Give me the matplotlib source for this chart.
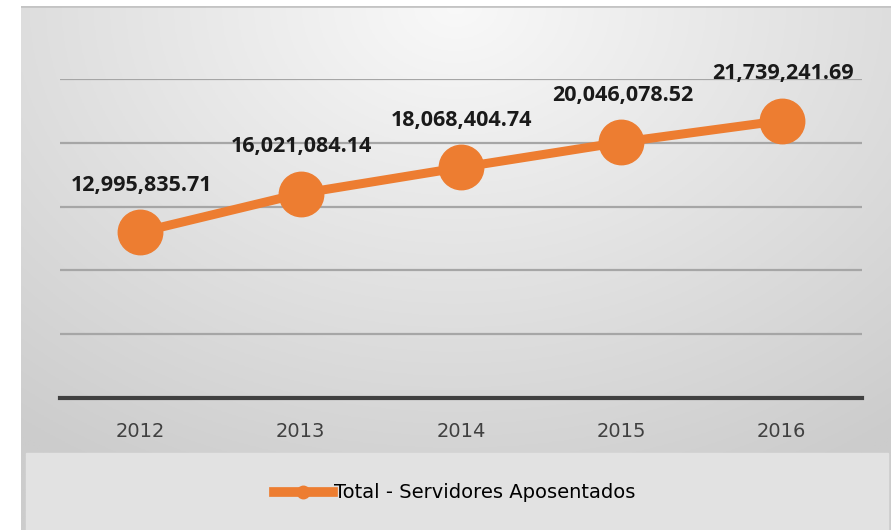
import numpy as np
import matplotlib.pyplot as plt
from matplotlib.lines import Line2D

anos = ["2012", "2013", "2014", "2015", "2016"]
valores = [12995835.71, 16021084.14, 18068404.74, 20046078.52, 21739241.69]
rotulos = ["12,995,835.71", "16,021,084.14", "18,068,404.74", "20,046,078.52", "21,739,241.69"]

laranja = "#ED7D31"

fig = plt.figure(figsize=(8.91, 5.30), dpi=100)
fig.patch.set_facecolor("white")

# fundo com gradiente
bg = fig.add_axes([21 / 891, 0, 1 - 21 / 891, 1 - 6 / 530])
yy, xx = np.mgrid[0:1:200j, 0:1:300j]
r = np.sqrt(((xx - 0.5) * 1.25) ** 2 + (yy * 1.0) ** 2)
g = np.clip(0.975 - 0.17 * r, 0.8, 1)
bg.imshow(np.dstack([g, g, g]), extent=[0, 1, 0, 1], origin="upper", aspect="auto")
# faixa da legenda
bg.axhspan(0, 77 / 524, xmin=5 / 870, xmax=867 / 870, color="#e2e2e2", zorder=2)
bg.axhline(1, color="#c4c4c4", lw=2, zorder=3)
bg.set_xlim(0, 1)
bg.set_ylim(0, 1)
bg.axis("off")

ax = fig.add_axes([60 / 891, 132 / 530, 802 / 891, 319 / 530])
ax.set_facecolor("none")
x = np.arange(len(anos))
ax.plot(x, valores, color=laranja, lw=6.5, marker="o", markersize=32,
        label="Total - Servidores Aposentados", zorder=3, clip_on=False)
for xi, v, t in zip(x, valores, rotulos):
    ax.annotate(t, (xi, v), xytext=(1, 47), textcoords="offset pixels",
                ha="center", va="center", fontsize=15.5, fontweight="bold",
                family="Open Sans", color="#1a1a1a", annotation_clip=False)

ax.set_xlim(-0.5, 4.5)
ax.set_ylim(0, 25000000)
ax.set_yticks(np.arange(0, 25000001, 5000000))
ax.yaxis.grid(True, color="#a6a6a6", lw=1.6)
ax.set_axisbelow(True)
ax.tick_params(left=False, labelleft=False, bottom=False)
ax.set_xticks(x)
ax.set_xticklabels(anos, fontsize=14, color="#404040")
ax.tick_params(axis="x", pad=14)
for s in ["top", "right", "left"]:
    ax.spines[s].set_visible(False)
ax.spines["bottom"].set_color("#404040")
ax.spines["bottom"].set_linewidth(3)

h = Line2D([], [], color=laranja, lw=7, marker="o", markersize=9)
fig.legend([h], ["Total - Servidores Aposentados"], loc="center",
           bbox_to_anchor=(455 / 891, 37 / 530), frameon=False,
           handlelength=3, handletextpad=0.1, prop={"size": 14})

plt.savefig("out.png", dpi=100)
plt.close()
